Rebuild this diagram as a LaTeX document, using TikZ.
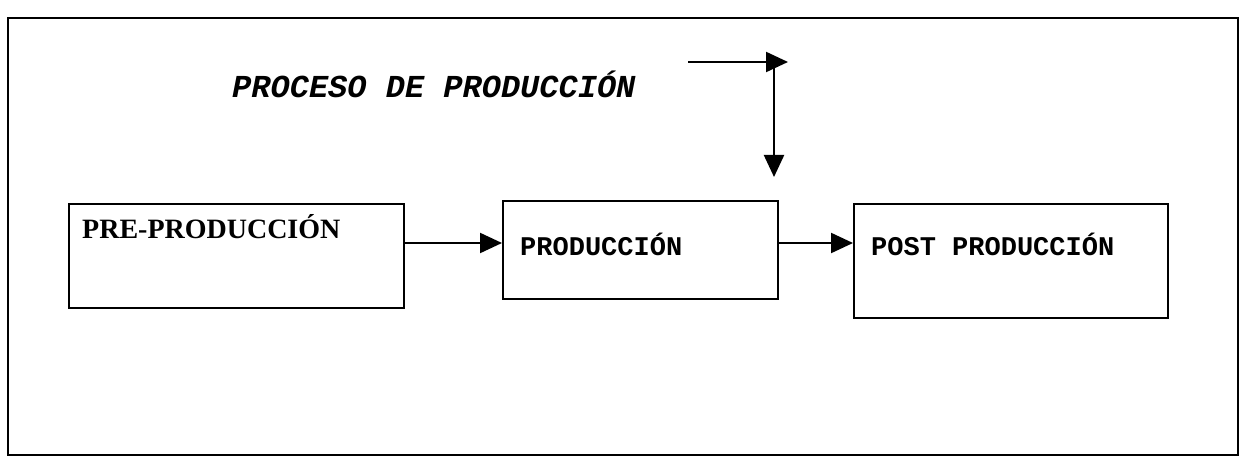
\documentclass[tikz,border=0pt]{standalone}
\usepackage{fontspec}
\usetikzlibrary{arrows.meta}
\newfontfamily\monof{Liberation Mono}
\newfontfamily\serf{Liberation Serif}
\begin{document}
\begin{tikzpicture}[x=1pt,y=-1pt,
  box/.style={draw,line width=2.4pt,inner sep=0pt,anchor=north west},
  conn/.style={line width=2.2pt,-{Triangle[length=22pt,width=20pt]}},
  lbl/.style={anchor=west,inner sep=0pt}]
\useasboundingbox (0,0) rectangle (1246,457);
\draw[line width=2.4pt] (8,18) rectangle (1238,455);
% boxes
\node[box,minimum width=335pt,minimum height=104pt] (b1) at (68,203) {};
\node[box,minimum width=275pt,minimum height=98pt] (b2) at (502,200) {};
\node[box,minimum width=314pt,minimum height=114pt] (b3) at (853,203) {};
% labels
\node[lbl,font=\serf\bfseries\fontsize{28}{28}\selectfont] (t1) at (82,227) {PRE-PRODUCCIÓN};
\node[lbl,font=\monof\bfseries\fontsize{27}{27}\selectfont] (t2) at (520,244) {PRODUCCIÓN};
\node[lbl,font=\monof\bfseries\fontsize{27}{27}\selectfont] (t3) at (871,244) {POST PRODUCCIÓN};
\node[lbl,font=\monof\bfseries\itshape\fontsize{32}{32}\selectfont] (title) at (232,84) {PROCESO DE PRODUCCIÓN};
% connectors
\coordinate (h0) at (688,62);
\coordinate (h1) at (788,62);
\coordinate (v0) at (774,62);
\coordinate (v1) at (774,177);
\draw[conn] (h0) -- (h1);
\draw[conn] (v0) -- (v1);
\draw[conn] (b1.east |- 0,243) -- (b2.west |- 0,243);
\draw[conn] (b2.east |- 0,243) -- (b3.west |- 0,243);
\end{tikzpicture}
\end{document}
